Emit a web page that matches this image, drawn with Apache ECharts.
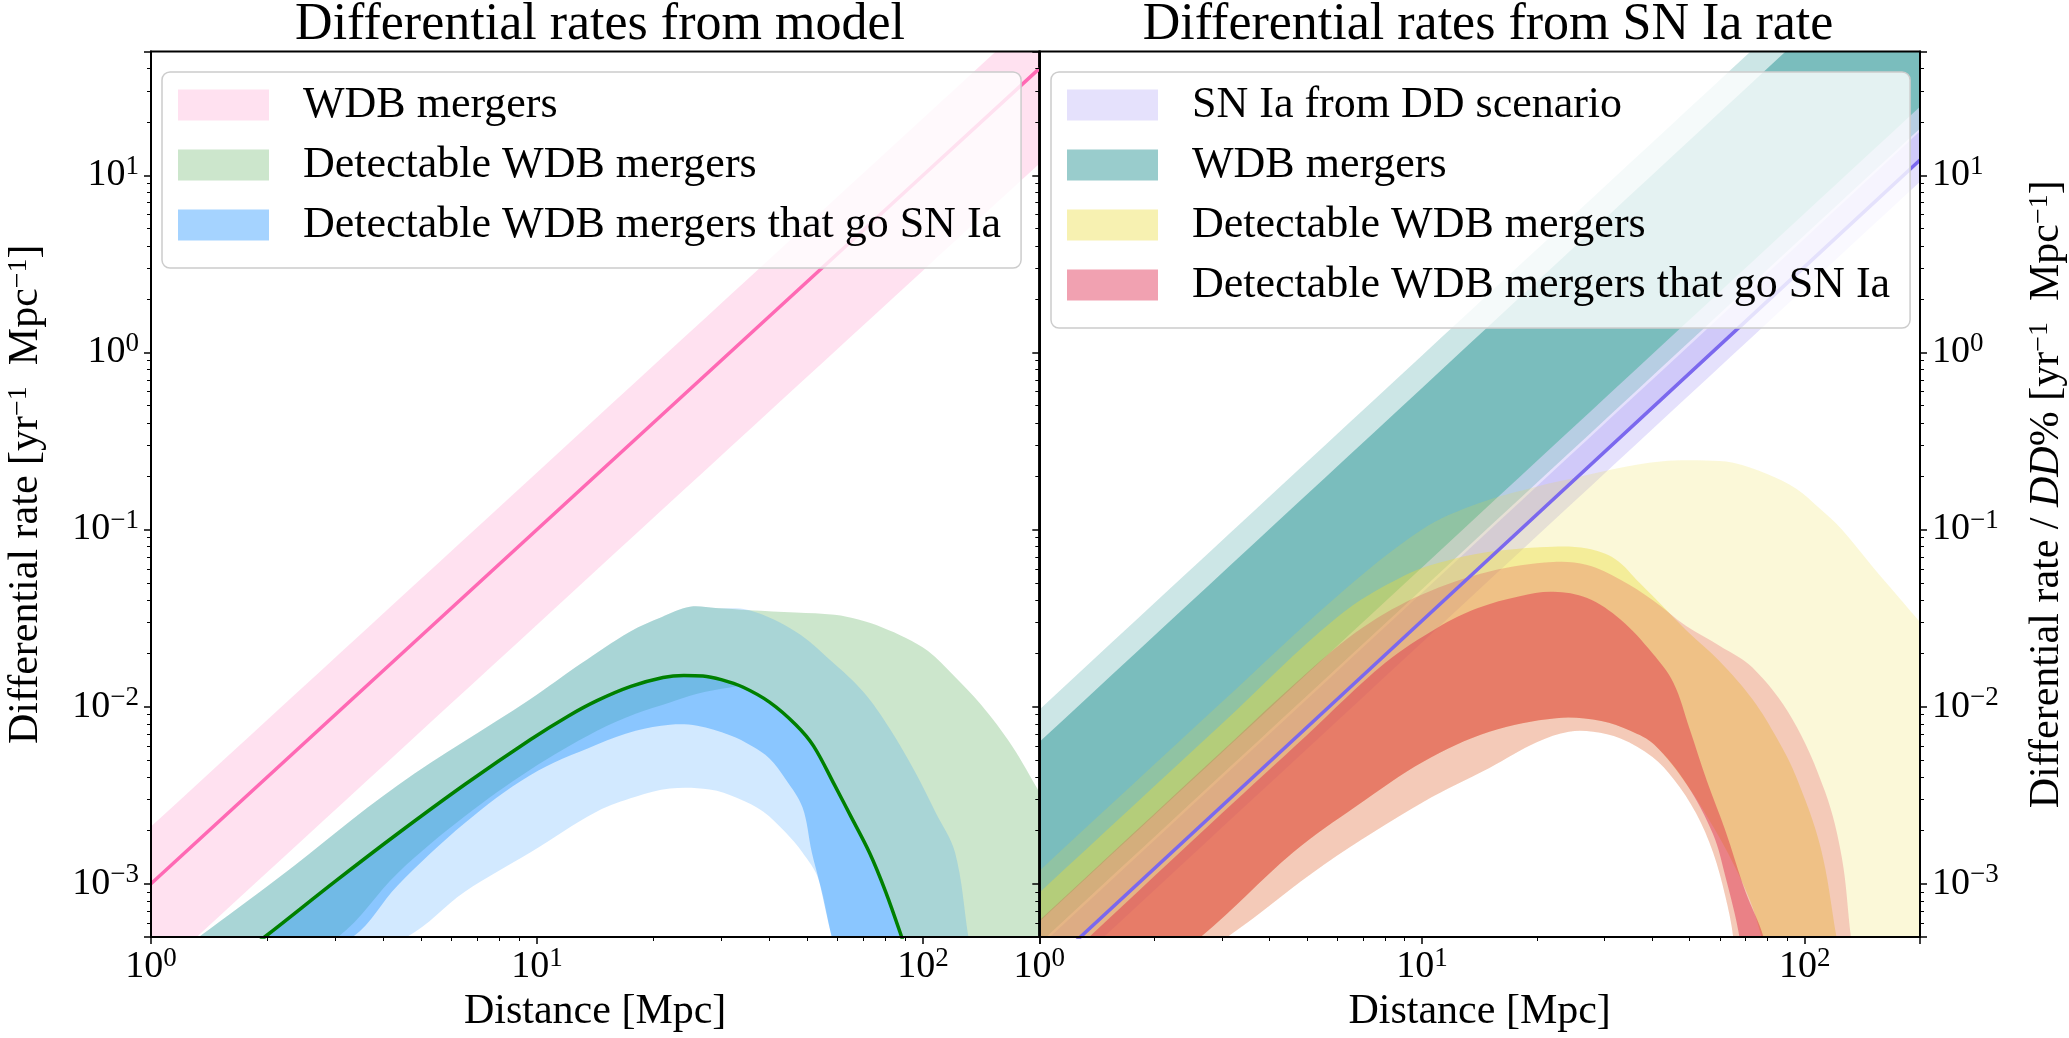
<!DOCTYPE html>
<html>
<head>
<meta charset="utf-8">
<title>Differential rates</title>
<script src="https://cdn.jsdelivr.net/npm/echarts@6/dist/echarts.min.js"></script>
<style>
  html, body { margin: 0; padding: 0; background: #fff; }
  #chart { width: 2069px; height: 1038px; }
</style>
</head>
<body>
<div id="chart"></div>
<script>
// [distance Mpc, rate yr^-1 Mpc^-1] pairs

// left panel: from model
const pinkUpper = [[1, 2.1e-3], [10, 0.21], [100, 21], [200, 84]]
const pinkLower = [[1, 2.9e-4], [10, 0.029], [100, 2.9], [200, 11.6]]
const pinkMedian = [[1, 1.0e-3], [10, 0.1], [100, 10], [200, 40]]

const greenUpper = [[1, 3.2e-4], [1.33, 5e-4], [2.14, 1.08e-3], [4.36, 3.6e-3], [9.6, 0.011], [13, 0.0175],
  [17.4, 0.0265], [21, 0.032], [24.9, 0.0366], [29, 0.036], [35.5, 0.035], [46.8, 0.034], [59, 0.033],
  [68, 0.031], [78.4, 0.028], [90, 0.0245], [103, 0.0206], [120, 0.015], [141, 0.0103], [170, 6e-3], [200, 3.3e-3]]
const greenLower = [[1, 1e-4], [3.05, 5e-4], [4.36, 1.15e-3], [6.5, 2.4e-3], [9.6, 4.4e-3], [14.3, 7.3e-3],
  [18, 9.1e-3], [22, 0.0105], [26, 0.0118], [31.6, 0.0128], [34.1, 0.0129], [40, 0.0106], [46.8, 7.9e-3],
  [52, 6e-3], [59, 3.6e-3], [65, 2.4e-3], [72.6, 1.5e-3], [80, 9e-4], [88, 5e-4], [100, 2e-4], [200, 1e-5]]
const greenMedian = [[1.5, 3.2e-4], [1.97, 5e-4], [3, 1.03e-3], [4.36, 1.92e-3], [6.5, 3.63e-3], [9.6, 6.5e-3],
  [12, 8.8e-3], [14.3, 0.0108], [17.5, 0.0130], [21.2, 0.0146], [24, 0.0150], [26.9, 0.0149], [30, 0.0142],
  [34.1, 0.0129], [40, 0.0106], [46.8, 7.9e-3], [52, 6e-3], [59, 3.6e-3], [65, 2.4e-3], [72.6, 1.5e-3],
  [80, 9e-4], [88, 5e-4], [95, 3e-4]]

const blueOuterUpper = [[1, 3.2e-4], [1.33, 5e-4], [2.14, 1.08e-3], [4.36, 3.6e-3], [9.6, 0.011], [13, 0.0175],
  [17.4, 0.0265], [21, 0.032], [24.9, 0.0366], [29, 0.036], [35.5, 0.035], [46.8, 0.0265], [58, 0.018],
  [69.8, 0.0122], [82, 7.5e-3], [95.2, 4.3e-3], [108, 2.5e-3], [121, 1.5e-3], [131, 5e-4], [140, 2e-4]]
const blueOuterLower = [[1, 1e-4], [4.6, 5e-4], [6.5, 9e-4], [9.6, 1.5e-3], [14.3, 2.56e-3], [18, 3.1e-3],
  [22.1, 3.45e-3], [28, 3.4e-3], [33, 3.05e-3], [38.5, 2.56e-3], [44, 1.95e-3], [48.7, 1.5e-3],
  [53.5, 1.07e-3], [58, 5e-4], [70, 1e-4], [200, 1e-5]]
const blueInnerUpper = greenMedian
const blueInnerLower = [[1, 1e-4], [3.33, 5e-4], [4.36, 9.8e-4], [6.5, 2.2e-3], [9.6, 4.1e-3], [14.3, 6.1e-3],
  [18, 7.3e-3], [22.1, 7.9e-3], [26, 7.8e-3], [31.6, 6.9e-3], [36, 6e-3], [40, 5.1e-3], [44, 3.9e-3],
  [48.7, 2.7e-3], [51.5, 1.5e-3], [54, 1.0e-3], [58, 5e-4], [70, 1e-4]]

// right panel: from SN Ia rate
const ddOuterUpper = [[1, 6.1e-4], [10, 0.061], [100, 6.1], [200, 24.4]]
const ddOuterLower = [[1, 2.3e-4], [10, 0.023], [100, 2.3], [200, 9.2]]
const ddInnerUpper = [[1, 4.4e-4], [10, 0.044], [100, 4.4], [200, 17.7]]
const ddInnerLower = [[1, 3.05e-4], [10, 0.0305], [100, 3.05], [200, 12.2]]
const ddMedian = [[1, 3.05e-4], [10, 0.0305], [100, 3.05], [200, 12.2]]

const tealOuterUpper = [[1, 9.6e-3], [10, 0.96], [100, 96], [200, 384]]
const tealOuterLower = [[1, 4.6e-4], [10, 0.046], [100, 4.6], [200, 18.4]]
const tealInnerUpper = [[1, 6.3e-3], [10, 0.63], [100, 63], [200, 252]]
const tealInnerLower = [[1, 6.1e-4], [10, 0.061], [100, 6.1], [200, 24.4]]

const yellowOuterUpper = [[1, 1.18e-3], [3, 0.0106], [6, 0.042], [10, 0.1], [14, 0.14], [20, 0.175],
  [25, 0.195], [32, 0.22], [42, 0.242], [55, 0.245], [65, 0.238], [80, 0.205], [95, 0.17], [110, 0.13],
  [125, 0.1], [150, 0.062], [175, 0.042], [200, 0.03]]
const yellowOuterLower = [[1, 1e-4], [3.1, 5e-4], [5.6, 1.3e-3], [10.1, 2.9e-3], [15, 4.5e-3], [20, 6.3e-3],
  [24.2, 7.2e-3], [28, 7.2e-3], [33, 6.6e-3], [40, 5.2e-3], [45.4, 3.9e-3], [52, 2.5e-3], [57.6, 1.5e-3],
  [62, 8.5e-4], [65, 5e-4], [70, 1e-4], [200, 1e-6]]
const yellowInnerUpper = [[1, 8.9e-4], [3, 8e-3], [6, 0.032], [9, 0.055], [12, 0.068], [16, 0.076],
  [22, 0.08], [27, 0.078], [32, 0.068], [37, 0.05], [43, 0.036], [49, 0.027], [60, 0.018], [73, 0.011],
  [85, 6.5e-3], [95, 4e-3], [110, 1.6e-3], [121, 5e-4], [130, 2e-4]]
const yellowInnerLower = [[1, 1e-4], [2.64, 5e-4], [4.6, 1.5e-3], [6.8, 2.78e-3], [10.1, 4.9e-3], [15, 7.2e-3],
  [22.4, 8.6e-3], [29.4, 8.3e-3], [35, 7.3e-3], [40.4, 6.1e-3], [49.3, 3.6e-3], [57.6, 2.1e-3],
  [65, 1.3e-3], [72, 8e-4], [77, 5e-4], [85, 2e-4], [200, 1e-6]]

const redOuterUpper = [[1, 6.2e-4], [3, 5.6e-3], [5, 0.0155], [7, 0.028], [10, 0.043], [15, 0.058],
  [22, 0.0656], [27, 0.063], [33, 0.052], [40, 0.04], [49, 0.0285], [60, 0.022], [73, 0.0166],
  [92.5, 8.6e-3], [113, 3.3e-3], [125, 1.4e-3], [132, 5e-4], [140, 2e-4]]
const redOuterLower = yellowOuterLower
const redInnerUpper = [[1, 2.75e-4], [1.35, 5e-4], [3, 2.5e-3], [5, 6.9e-3], [8, 0.0176], [11, 0.028],
  [14, 0.036], [18, 0.042], [22, 0.0445], [27, 0.041], [33, 0.031], [40, 0.02], [45.4, 0.0136],
  [50, 7.5e-3], [55.5, 3.8e-3], [62, 2e-3], [70, 9e-4], [78, 5e-4], [85, 2e-4]]
const redInnerLower = [[1, 1e-4], [2.64, 5e-4], [4.6, 1.5e-3], [6.8, 2.78e-3], [10.1, 4.9e-3], [15, 7.2e-3],
  [22.4, 8.6e-3], [29.4, 8.3e-3], [35, 7.3e-3], [40.4, 6.1e-3], [49.3, 3.6e-3], [57.6, 1.9e-3],
  [62, 1.1e-3], [67.5, 5e-4], [75, 1e-4]]

const FONT = '"Liberation Serif", "Times New Roman", serif'

const chart = echarts.init(document.getElementById('chart'))

// filled band between two curves; the end points are doubled so that
// the smoothing keeps the corners at the panel edges sharp
function band(name, upper, lower, color, axis) {
  return {
    type: 'custom',
    name: name,
    xAxisIndex: axis,
    yAxisIndex: axis === 0 ? 0 : 2,
    clip: true,
    silent: true,
    data: upper,
    renderItem: function (params, api) {
      if (params.dataIndex !== 0) return null
      const up = upper.map(p => api.coord(p))
      const lo = lower.slice().reverse().map(p => api.coord(p))
      const pts = [up[0]].concat(up, [up[up.length - 1], lo[0]], lo, [lo[lo.length - 1]])
      const cs = params.coordSys
      return {
        type: 'polygon',
        shape: { points: pts, smooth: 0.35 },
        style: { fill: color, stroke: null },
        clipPath: { type: 'rect', shape: { x: cs.x, y: cs.y, width: cs.width, height: cs.height } }
      }
    }
  }
}

function curve(name, pts, color, axis, smooth) {
  return {
    type: 'line',
    name: name,
    xAxisIndex: axis,
    yAxisIndex: axis === 0 ? 0 : 2,
    data: pts,
    showSymbol: false,
    symbol: 'none',
    smooth: smooth || false,
    clip: true,
    silent: true,
    z: 3,
    lineStyle: { color: color, width: 3.5 }
  }
}

function powLabel(v) {
  const e = Math.log10(v)
  const n = Math.round(e)
  if (Math.abs(e - n) > 1e-6) return ''
  return '{b|10}{s|' + String(n).replace('-', '\u2212') + '}'
}

const tickRich = {
  b: { fontFamily: FONT, fontSize: 38, color: '#000', lineHeight: 44 },
  s: { fontFamily: FONT, fontSize: 27, color: '#000', lineHeight: 30, verticalAlign: 'top' }
}
const nameRich = {
  s: { fontFamily: FONT, fontSize: 28, color: '#000', verticalAlign: 'top', lineHeight: 30 },
  i: { fontFamily: FONT, fontSize: 42, color: '#000', fontStyle: 'italic' }
}

const tickLine = { color: '#000', width: 1.5 }

function xAxis(grid) {
  return {
    type: 'log', gridIndex: grid, min: 1, max: 200, z: 5,
    name: 'Distance [Mpc]', nameLocation: 'middle', nameGap: 54,
    nameTextStyle: { fontFamily: FONT, fontSize: 42, color: '#000' },
    axisLine: { show: true, lineStyle: { color: '#000', width: 2 } },
    axisTick: { show: true, length: 7, lineStyle: tickLine },
    minorTick: { show: true, splitNumber: 9, length: 4, lineStyle: { color: '#000', width: 1 } },
    splitLine: { show: false },
    axisLabel: { formatter: powLabel, rich: tickRich, margin: 8, showMaxLabel: false }
  }
}

function yAxis(grid, pos, withLabels, name, gap) {
  return {
    type: 'log', gridIndex: grid, min: 5e-4, max: 50, position: pos, z: 5,
    name: name, nameLocation: 'middle', nameGap: gap, nameRotate: 90,
    nameTextStyle: { fontFamily: FONT, fontSize: 42, color: '#000', rich: nameRich },
    axisLine: { show: true, lineStyle: { color: '#000', width: 2 } },
    axisTick: { show: true, length: 7, lineStyle: tickLine },
    minorTick: { show: true, splitNumber: 9, length: 4, lineStyle: { color: '#000', width: 1 } },
    splitLine: { show: false },
    axisLabel: { show: withLabels, formatter: powLabel, rich: tickRich, margin: 12, showMinLabel: false, showMaxLabel: false }
  }
}

const legendBase = {
  orient: 'vertical',
  icon: 'rect',
  itemWidth: 91,
  itemHeight: 31,
  itemGap: 16,
  padding: [11, 20, 21, 16],
  backgroundColor: 'rgba(255,255,255,0.8)',
  borderColor: '#cccccc',
  borderWidth: 1.5,
  borderRadius: 8,
  selectedMode: false,
  textStyle: { fontFamily: FONT, fontSize: 44, color: '#000', padding: [0, 0, 0, 29] }
}

chart.setOption({
  animation: false,
  backgroundColor: '#fff',
  title: [
    { text: 'Differential rates from model', left: 595, top: -6, textAlign: 'center',
      textStyle: { fontFamily: FONT, fontSize: 52, fontWeight: 'normal', color: '#000' } },
    { text: 'Differential rates from SN Ia rate', left: 1483, top: -6, textAlign: 'center',
      textStyle: { fontFamily: FONT, fontSize: 52, fontWeight: 'normal', color: '#000' } }
  ],
  grid: [
    { left: 151, top: 51.5, width: 888.3, height: 887.5, show: true, z: 3,
      borderColor: '#000', borderWidth: 2, backgroundColor: 'transparent' },
    { left: 1039.3, top: 51.5, width: 887.4, height: 887.5, show: true, z: 3,
      borderColor: '#000', borderWidth: 2, backgroundColor: 'transparent' }
  ],
  xAxis: [xAxis(0), xAxis(1)],
  yAxis: [
    yAxis(0, 'left', true, 'Differential rate [yr{s|\u22121}  Mpc{s|\u22121}]', 104),
    yAxis(1, 'left', false, '', 100),
    yAxis(1, 'right', true, 'Differential rate / {i|DD}% [yr{s|\u22121}  Mpc{s|\u22121}]', 106)
  ],
  legend: [
    Object.assign({}, legendBase, {
      left: 162, top: 72,
      data: [
        { name: 'WDB mergers', itemStyle: { color: '#ffe1f0' } },
        { name: 'Detectable WDB mergers', itemStyle: { color: '#cce6cc' } },
        { name: 'Detectable WDB mergers that go SN Ia', itemStyle: { color: '#a5d3ff' } }
      ]
    }),
    Object.assign({}, legendBase, {
      left: 1051, top: 72,
      data: [
        { name: 'SN Ia from DD scenario', itemStyle: { color: '#e5e1fc' } },
        { name: 'WDB mergers', itemStyle: { color: '#99cccc' } },
        { name: 'Detectable WDB mergers', itemStyle: { color: '#f7f1b1' } },
        { name: 'Detectable WDB mergers that go SN Ia', itemStyle: { color: '#f1a1b1' } }
      ]
    })
  ],
  series: [
    band('WDB mergers', pinkUpper, pinkLower, 'rgba(255,105,180,0.2)', 0),
    band('Detectable WDB mergers', greenUpper, greenLower, 'rgba(0,128,0,0.2)', 0),
    band('Detectable WDB mergers that go SN Ia', blueOuterUpper, blueOuterLower, 'rgba(30,144,255,0.2)', 0),
    band('Detectable WDB mergers that go SN Ia', blueInnerUpper, blueInnerLower, 'rgba(30,144,255,0.4)', 0),
    curve('model median', pinkMedian, '#ff69b4', 0),
    curve('detectable median', greenMedian, '#008000', 0, 0.35),

    band('SN Ia from DD scenario', ddOuterUpper, ddOuterLower, 'rgba(123,104,238,0.2)', 1),
    band('SN Ia from DD scenario', ddInnerUpper, ddInnerLower, 'rgba(123,104,238,0.2)', 1),
    band('WDB mergers', tealOuterUpper, tealOuterLower, 'rgba(0,128,128,0.2)', 1),
    band('WDB mergers', tealInnerUpper, tealInnerLower, 'rgba(0,128,128,0.4)', 1),
    band('Detectable WDB mergers', yellowOuterUpper, yellowOuterLower, 'rgba(235,220,60,0.2)', 1),
    band('Detectable WDB mergers', yellowInnerUpper, yellowInnerLower, 'rgba(235,220,60,0.4)', 1),
    band('Detectable WDB mergers that go SN Ia', redOuterUpper, redOuterLower, 'rgba(220,20,60,0.2)', 1),
    band('Detectable WDB mergers that go SN Ia', redInnerUpper, redInnerLower, 'rgba(220,20,60,0.4)', 1),
    curve('DD median', ddMedian, '#7b68ee', 1)
  ]
})
</script>
</body>
</html>
